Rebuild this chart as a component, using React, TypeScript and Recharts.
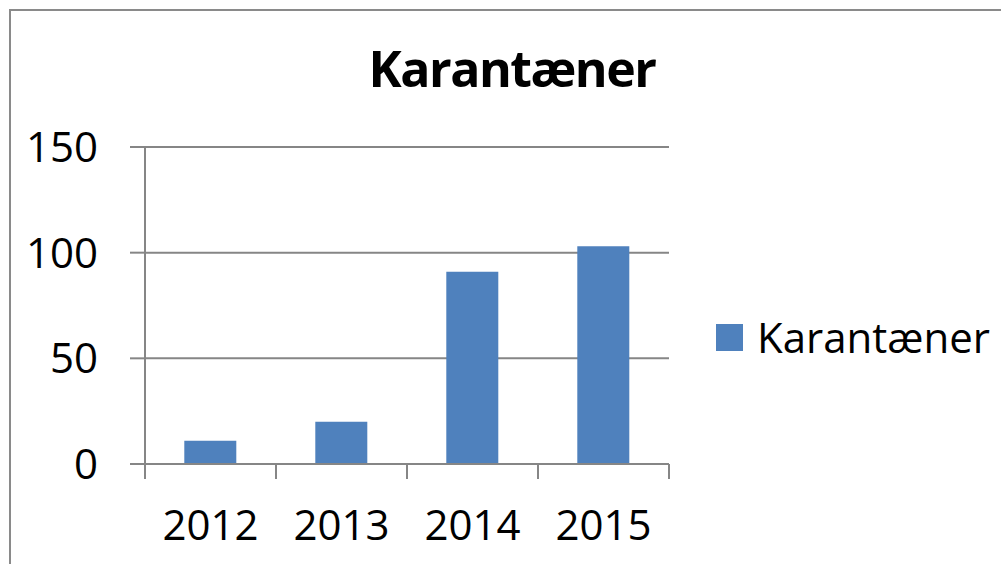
import { BarChart, Bar, XAxis, YAxis, CartesianGrid, Legend } from 'recharts';

const years = ['2012', '2013', '2014', '2015'];
const karantaener = [11, 20, 91, 103];
const yTicks = [0, 50, 100, 150];

const SERIES = 'Karantæner';
const BAR_COLOR = '#4F81BD';
const LINE = '#868686';
const FONT = '"Open Sans", "Noto Sans", sans-serif';
const TICK = 15;

const data = years.map((year, i) => ({ year, value: karantaener[i] }));

function LegendBox() {
  return (
    <div style={{ display: 'flex', alignItems: 'center', fontFamily: FONT }}>
      <span style={{ width: 27, height: 27, background: BAR_COLOR, display: 'inline-block' }} />
      <span style={{ marginLeft: 14, fontSize: 42, lineHeight: '42px', color: '#000' }}>{SERIES}</span>
    </div>
  );
}

// category label plus tick marks on the band edges (Excel style)
function YearTick(props: any) {
  const { x, y, payload, index, visibleTicksCount } = props;
  const half = payload.offset || 0;
  const top = y - TICK;
  const last = index === visibleTicksCount - 1;
  return (
    <g>
      <line x1={x - half} x2={x - half} y1={top} y2={y} stroke={LINE} strokeWidth={2} />
      {last && <line x1={x + half} x2={x + half} y1={top} y2={y} stroke={LINE} strokeWidth={2} />}
      <text x={x} y={y + 31} dy="0.71em" textAnchor="middle" fontSize={42} fill="#000" fontFamily={FONT}>
        {payload.value}
      </text>
    </g>
  );
}

export default function App() {
  return (
    <div style={{ position: 'absolute', left: 0, top: 0, width: 1001, height: 564, overflow: 'hidden', background: '#fff', fontFamily: FONT }}>
      {/* outer chart frame, cut by the picture edge */}
      <div style={{ position: 'absolute', left: 9, top: 9, width: 1200, height: 800, border: '2px solid #8a8a8a' }} />
      <div style={{ position: 'absolute', left: 262, top: 40, width: 500, textAlign: 'center', fontSize: 50, lineHeight: '56px', fontWeight: 700, letterSpacing: -1.5, color: '#000' }}>
        {SERIES}
      </div>
      <BarChart
        width={1001}
        height={564}
        data={data}
        margin={{ top: 147, right: 332, bottom: 0, left: 0 }}
        barCategoryGap="30%"
        style={{ position: 'absolute', left: 0, top: 0 }}
      >
        <CartesianGrid vertical={false} stroke={LINE} strokeWidth={2} />
        <XAxis
          dataKey="year"
          height={100}
          axisLine={{ stroke: LINE, strokeWidth: 2 }}
          tickLine={false}
          tickSize={TICK}
          tickMargin={0}
          tick={<YearTick />}
        />
        <YAxis
          width={145}
          domain={[0, 150]}
          ticks={yTicks}
          tickSize={TICK}
          tickMargin={32}
          axisLine={{ stroke: LINE, strokeWidth: 2 }}
          tickLine={{ stroke: LINE, strokeWidth: 2 }}
          tick={{ fontSize: 42, fill: '#000', fontFamily: FONT }}
        />
        <Legend
          layout="horizontal"
          align="center"
          verticalAlign="middle"
          content={() => <LegendBox />}
          wrapperStyle={{ left: 716, top: 316, width: 285 }}
        />
        <Bar dataKey="value" name={SERIES} fill={BAR_COLOR} isAnimationActive={false} />
      </BarChart>
    </div>
  );
}
